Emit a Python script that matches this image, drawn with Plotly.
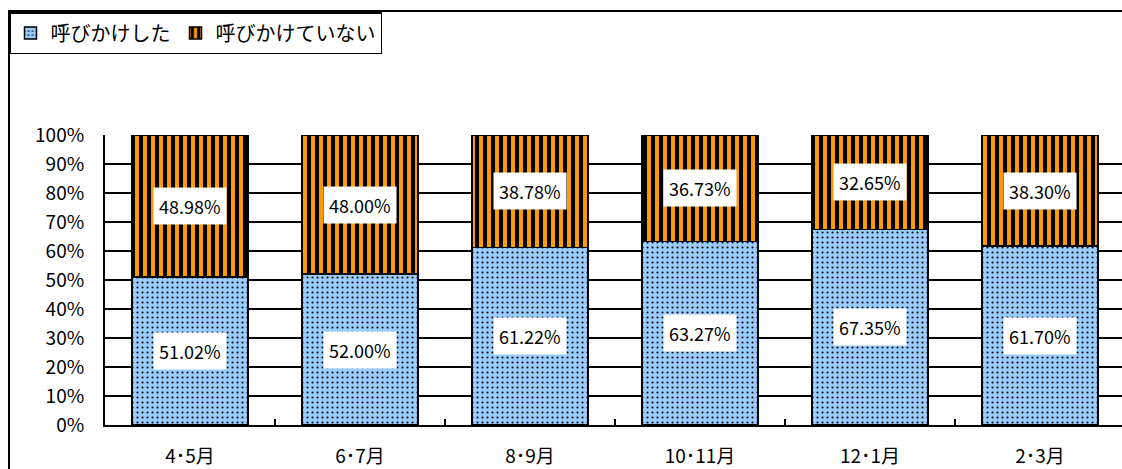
import plotly.graph_objects as go

categories = ["4･5月", "6･7月", "8･9月", "10･11月", "12･1月", "2･3月"]
called = [51.02, 52.00, 61.22, 63.27, 67.35, 61.70]
not_called = [48.98, 48.00, 38.78, 36.73, 32.65, 38.30]
series_names = ["呼びかけした", "呼びかけていない"]
y_ticks = [0, 10, 20, 30, 40, 50, 60, 70, 80, 90, 100]
y_tick_labels = [f"{v}%" for v in y_ticks]

FONT = "Noto Sans CJK JP"
BLUE = "#99CCFF"
ORANGE = "#FF9900"

fig = go.Figure()
fig.add_trace(go.Bar(
    x=categories, y=called, name=series_names[0],
    marker=dict(color=BLUE, line=dict(color="black", width=1.5),
                pattern=dict(shape=".", fgcolor="black", bgcolor=BLUE,
                             size=5, solidity=0.14, fillmode="replace")),
))
fig.add_trace(go.Bar(
    x=categories, y=not_called, name=series_names[1],
    marker=dict(color=ORANGE, line=dict(color="black", width=1.5),
                pattern=dict(shape="|", fgcolor="black", bgcolor=ORANGE,
                             size=8, solidity=0.5, fillmode="replace")),
))

annotations = []
for c, a, b in zip(categories, called, not_called):
    annotations.append(dict(x=c, y=a / 2, text=f"{a:.2f}%", showarrow=False,
                            bgcolor="white", borderpad=5,
                            font=dict(family=FONT, size=18, color="black")))
    annotations.append(dict(x=c, y=a + b / 2, text=f"{b:.2f}%", showarrow=False,
                            bgcolor="white", borderpad=5,
                            font=dict(family=FONT, size=18, color="black")))

W, H = 1125, 469
L, R, T, B = 105, 0, 135, 44
pw, ph = W - L - R, H - T - B
def px_x(p):
    return (p - L) / pw
def px_y(p):
    return (H - B - p) / ph

shapes = [
    dict(type="line", xref="paper", yref="paper", x0=px_x(9), x1=px_x(9),
         y0=px_y(10), y1=px_y(480), line=dict(color="black", width=2)),
    dict(type="line", xref="paper", yref="paper", x0=px_x(8), x1=px_x(1130),
         y0=px_y(11), y1=px_y(11), line=dict(color="black", width=2)),
]

fig.update_layout(
    width=W, height=H,
    margin=dict(l=L, r=R, t=T, b=B),
    barmode="stack", bargap=0.32,
    plot_bgcolor="white", paper_bgcolor="white",
    font=dict(family=FONT, size=18, color="black"),
    showlegend=True,
    legend=dict(orientation="h", x=px_x(9), y=px_y(12), xanchor="left", yanchor="top",
                bordercolor="black", borderwidth=1.5, bgcolor="white",
                font=dict(family=FONT, size=20, color="black"),
                itemwidth=30, tracegroupgap=0, traceorder="normal",
                itemclick=False),
    xaxis=dict(showline=True, linecolor="black", linewidth=2,
               tickson="boundaries", ticks="inside", ticklen=6, tickcolor="black",
               tickwidth=1.5, showgrid=False, ticklabelstandoff=13,
               tickfont=dict(family=FONT, size=19)),
    yaxis=dict(range=[0, 100], tickvals=y_ticks, ticktext=y_tick_labels,
               showline=True, linecolor="black", linewidth=2,
               showgrid=True, gridcolor="black", gridwidth=1.5,
               ticks="", zeroline=False, ticklabelstandoff=15,
               tickfont=dict(family=FONT, size=19)),
    annotations=annotations,
    shapes=shapes,
)

fig.write_html(
    "out.html",
    config={"displayModeBar": False},
    post_script=("document.documentElement.style.overflow='hidden';"
                 "document.body.style.margin='0';"
                 "document.body.style.overflow='hidden';"),
)
